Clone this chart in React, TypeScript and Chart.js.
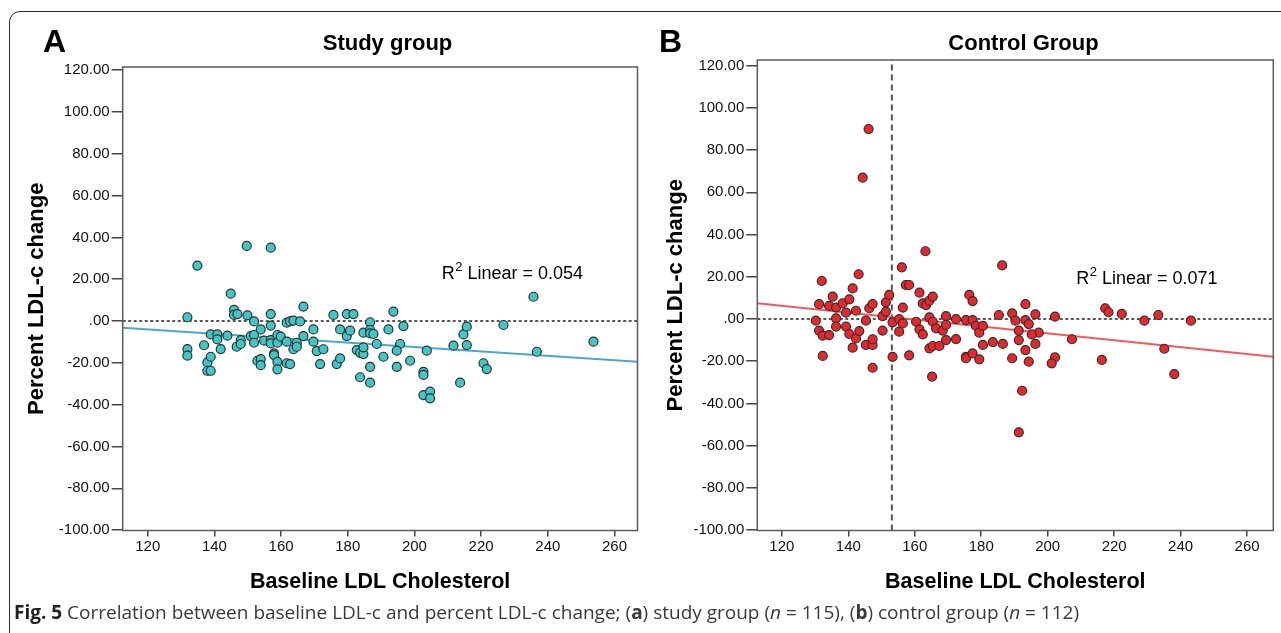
import React, { useEffect, useRef } from "react";
import { Chart, registerables } from "chart.js";
Chart.register(...registerables);

// ---- axes ----
const xTicks = [120, 140, 160, 180, 200, 220, 240, 260];
const yTicks = [-100, -80, -60, -40, -20, 0, 20, 40, 60, 80, 100, 120];
const studyXRange = [112.5, 266.9];
const studyYRange = [-100.2, 121.5];
const controlXRange = [112.6, 267.9];
const controlYRange = [-100.2, 122.7];

// ---- study group (A) ----
const studyX = [
  131.9, 134.9, 131.9, 131.9, 136.9, 137.9, 138.9, 137.9, 138.9, 138.9,
  140.9, 140.9, 141.9, 143.9, 144.9, 145.9, 145.9, 146.9, 146.7, 147.9,
  147.9, 149.7, 149.9, 151.9, 150.9, 151.9, 151.9, 152.9, 153.9, 153.9,
  153.9, 154.9, 156.9, 156.9, 156.9, 156.9, 156.9, 157.9, 157.9, 158.9,
  158.9, 158.9, 158.9, 159.9, 161.7, 161.7, 161.7, 162.7, 162.7, 163.7,
  163.7, 164.7, 164.7, 165.7, 166.7, 166.7, 169.7, 169.7, 170.7, 171.7,
  172.7, 175.7, 176.7, 177.7, 177.7, 179.7, 179.7, 180.7, 181.7, 182.7,
  183.7, 184.7, 184.7, 183.7, 184.7, 186.7, 186.7, 186.7, 187.7, 186.7,
  186.7, 188.7, 190.7, 192.2, 193.7, 196.7, 195.7, 194.7, 194.7, 198.7,
  203.7, 202.7, 202.7, 202.7, 204.7, 204.7, 211.7, 213.7, 214.7, 215.7,
  215.7, 220.7, 221.7, 226.7, 235.7, 236.7, 253.7,
];
const studyY = [
  1.8, 26.5, -13.4, -16.6, -11.6, -19.8, -17.1, -23.8, -23.8, -6.4,
  -6.4, -8.8, -13.4, -7.0, 13.1, 5.3, 2.9, 3.3, -12.3, -9.1,
  -11.0, 35.9, 2.7, -0.2, -7.2, -6.7, -10.4, -19.0, -18.2, -21.1,
  -4.0, -9.4, 35.1, 3.3, -2.2, -9.1, -10.7, -15.5, -16.3, -19.5,
  -23.1, -6.7, -10.4, -7.5, -0.8, -9.9, -20.2, -20.6, -0.2, 0.2,
  -13.5, -10.4, -12.3, -0.2, 6.9, -7.2, -4.0, -9.9, -14.4, -20.6,
  -13.5, 2.9, -20.6, -4.0, -17.9, 3.3, -7.2, -4.6, 3.3, -13.9,
  -15.2, -15.8, -12.6, -26.9, -5.6, -0.6, -4.3, -5.9, -6.2, -21.9,
  -29.5, -11.0, -17.1, -4.0, 4.5, -2.4, -11.0, -14.2, -21.9, -19.0,
  -14.2, -24.3, -25.8, -35.4, -33.8, -37.0, -11.8, -29.5, -6.4, -2.7,
  -11.5, -20.2, -23.0, -1.9, 11.6, -14.7, -9.9,
];
const studyFitX = [112.5, 266.9];
const studyFitY = [-3.2, -19.5];
const studyR2 = "0.054";
const studyR2Pos = [208.2, 19.9];

// ---- control group (B) ----
const controlX = [
  146.1, 144.3, 163.2, 156.1, 186.3, 143.1, 132.0,
  131.2, 134.2, 135.3, 136.3, 138.3, 140.3, 141.3, 139.3, 136.3, 130.2,
  131.2, 132.3, 134.2, 136.3, 139.3, 140.3, 142.3, 142.3, 143.3, 141.3,
  145.3, 146.3, 147.3, 145.3, 147.3, 147.3, 147.3, 132.3, 150.3, 150.3,
  151.3, 151.3, 152.3, 153.3, 155.3, 156.4, 155.3, 156.4, 153.3, 157.3,
  158.3, 158.3, 160.4, 161.4, 161.4, 162.4, 162.4, 163.4, 164.4, 165.4,
  164.4, 165.4, 166.4, 164.4, 165.4, 165.2, 167.4, 168.4, 169.4, 169.4,
  169.4, 172.4, 172.4, 175.4, 176.4, 177.4, 177.4, 178.4, 179.4, 180.5,
  180.5, 175.4, 175.4, 177.4, 179.4, 183.5, 185.3, 186.5, 189.3, 189.3,
  190.3, 191.3, 191.3, 193.3, 193.3, 194.3, 193.3, 194.3, 192.3, 191.3,
  196.3, 196.3, 197.3,
  195.2, 202.2, 202.2, 201.2, 207.3, 216.3, 217.3, 218.3, 222.3, 229.1,
  233.3, 235.1, 238.1, 243.1,
];
const controlY = [
  90.0, 67.0, 32.1, 24.5, 25.4, 21.2, 18.0,
  7.0, 6.2, 10.6, 5.4, 7.4, 9.3, 14.5, 3.0, 0.3, -0.8,
  -5.5, -7.9, -7.6, -3.6, -3.6, -7.1, 3.9, -9.2, -5.7, -13.6,
  -0.8, 5.1, 7.1, -12.3, -12.3, -9.6, -23.1, -17.5, -5.5, 1.4,
  3.5, 7.9, 11.4, -1.6, -0.1, 5.4, -6.0, -2.1, -17.9, 16.1,
  16.1, -17.2, -1.3, 12.5, -4.9, -7.3, 7.4, 6.6, 8.7, 10.6,
  0.8, -1.3, -4.4, -13.9, -12.8, -27.3, -12.8, -5.5, 1.4, -2.8,
  -10.0, -0.1, -9.5, -0.5, 11.4, 8.5, -0.5, -3.3, -6.5, -3.3,
  -12.3, -17.9, -18.6, -16.3, -19.1, -11.0, 1.9, -11.8, -18.6, 2.7,
  -0.8, -5.5, -10.0, 7.0, -0.5, -2.4, -14.7, -20.2, -34.0, -53.7,
  2.2, -11.8, -6.5,
  -7.3, 1.1, -18.2, -21.0, -9.6, -19.4, 5.1, 3.2, 2.4, -0.8,
  1.9, -14.1, -26.1, -0.8,
];
const controlFitX = [112.6, 267.9];
const controlFitY = [7.5, -17.9];
const controlMeanX = 153.1;
const controlR2 = "0.071";
const controlR2Pos = [208.6, 16.8];

const SANS = '"Liberation Sans", Arial, sans-serif';
const NARROW = '"Liberation Sans Narrow", "Arial Narrow", "Liberation Sans", sans-serif';

const decorPlugin = {
  id: "decor",
  afterDraw(chart: any, _args: any, opts: any) {
    const { ctx, chartArea: a } = chart;
    ctx.save();
    ctx.strokeStyle = "#5a5a5a";
    ctx.lineWidth = 1.5;
    ctx.strokeRect(a.left, a.top, a.right - a.left, a.bottom - a.top);
    ctx.fillStyle = "#000";
    ctx.textBaseline = "alphabetic";
    ctx.textAlign = "left";
    ctx.font = `bold 32px ${SANS}`;
    ctx.fillText(opts.letter, opts.letterX, opts.letterY);
    ctx.textAlign = "center";
    ctx.font = `bold 22px ${SANS}`;
    ctx.fillText(opts.title, opts.titleX, opts.titleY);
    // R2 annotation
    const xs = chart.scales.x;
    const ys = chart.scales.y;
    let px = xs.getPixelForValue(opts.r2Pos[0]);
    const py = ys.getPixelForValue(opts.r2Pos[1]);
    ctx.textAlign = "left";
    ctx.font = `18px ${SANS}`;
    ctx.fillText("R", px, py);
    px += ctx.measureText("R").width + 0.5;
    ctx.font = `13px ${SANS}`;
    ctx.fillText("2", px, py - 8);
    px += ctx.measureText("2").width;
    ctx.font = `18px ${SANS}`;
    ctx.fillText(" Linear = " + opts.r2, px, py);
    ctx.restore();
  },
};

function makeConfig(p: any) {
  const points = p.xs.map((x: number, i: number) => ({ x, y: p.ys[i] }));
  const datasets: any[] = [
    {
      type: "scatter",
      data: points,
      backgroundColor: p.fill,
      borderColor: "#2f2f2f",
      borderWidth: 1.2,
      pointRadius: 4.5,
      order: 0,
    },
    {
      type: "scatter",
      data: p.fitX.map((x: number, i: number) => ({ x, y: p.fitY[i] })),
      showLine: true,
      borderColor: p.lineColor,
      borderWidth: 2,
      pointRadius: 0,
      order: 1,
    },
    {
      type: "scatter",
      data: [
        { x: p.xRange[0], y: 0 },
        { x: p.xRange[1], y: 0 },
      ],
      showLine: true,
      borderColor: "#222",
      borderWidth: 1.6,
      borderDash: [3, 2.5],
      pointRadius: 0,
      order: 2,
    },
  ];
  if (p.meanX !== undefined) {
    datasets.push({
      type: "scatter",
      data: [
        { x: p.meanX, y: p.yRange[0] },
        { x: p.meanX, y: p.yRange[1] },
      ],
      showLine: true,
      borderColor: "#555",
      borderWidth: 2,
      borderDash: [6, 4],
      pointRadius: 0,
      order: 3,
    });
  }
  return {
    type: "scatter",
    data: { datasets },
    plugins: [decorPlugin],
    options: {
      animation: false,
      responsive: false,
      devicePixelRatio: 1,
      events: [],
      layout: { padding: { left: 0, top: p.top, right: p.right, bottom: 0 } },
      plugins: {
        legend: { display: false },
        tooltip: { enabled: false },
        title: { display: false },
        decor: {
          letter: p.letter,
          letterX: p.letterX,
          letterY: 52,
          title: p.title,
          titleX: p.titleX,
          titleY: 50,
          r2: p.r2,
          r2Pos: p.r2Pos,
        },
      },
      scales: {
        x: {
          type: "linear",
          min: p.xRange[0],
          max: p.xRange[1],
          afterBuildTicks: (s: any) => {
            s.ticks = xTicks.map((v) => ({ value: v }));
          },
          afterFit: (s: any) => {
            s.height = p.xHeight;
          },
          ticks: {
            autoSkip: false,
            maxRotation: 0,
            padding: 1,
            color: "#111",
            font: { family: NARROW, size: 15 },
            callback: (v: any) => String(v),
          },
          grid: {
            display: true,
            drawOnChartArea: false,
            drawTicks: true,
            tickLength: 6,
            color: "#444",
            lineWidth: 1.5,
          },
          border: { display: false },
          title: {
            display: true,
            text: "Baseline LDL Cholesterol",
            color: "#000",
            font: { family: SANS, size: 21.5, weight: "bold" },
            padding: { top: 0, bottom: 5.1 },
          },
        },
        y: {
          type: "linear",
          min: p.yRange[0],
          max: p.yRange[1],
          afterBuildTicks: (s: any) => {
            s.ticks = yTicks.map((v) => ({ value: v }));
          },
          afterFit: (s: any) => {
            s.width = p.yWidth;
          },
          ticks: {
            autoSkip: false,
            padding: 2,
            color: "#111",
            font: { family: NARROW, size: 15 },
            callback: (v: any) => (v === 0 ? ".00" : Number(v).toFixed(2)),
          },
          grid: {
            display: true,
            drawOnChartArea: false,
            drawTicks: true,
            tickLength: 11,
            color: "#444",
            lineWidth: 1.5,
          },
          border: { display: false },
          title: {
            display: true,
            text: "Percent LDL-c change",
            color: "#000",
            font: { family: SANS, size: 22, weight: "bold" },
            padding: { top: p.yTitlePad, bottom: 0 },
          },
        },
      },
    },
  };
}

export default function App() {
  const leftRef = useRef<HTMLCanvasElement>(null);
  const rightRef = useRef<HTMLCanvasElement>(null);

  useEffect(() => {
    const c1 = new Chart(
      leftRef.current as HTMLCanvasElement,
      makeConfig({
        xs: studyX,
        ys: studyY,
        fitX: studyFitX,
        fitY: studyFitY,
        xRange: studyXRange,
        yRange: studyYRange,
        fill: "#3fc6c6",
        lineColor: "#4aa8cc",
        letter: "A",
        letterX: 43,
        title: "Study group",
        titleX: 387.5,
        r2: studyR2,
        r2Pos: studyR2Pos,
        top: 67,
        right: 645 - 637.5,
        xHeight: 600 - 530.5,
        yWidth: 122.7,
        yTitlePad: 37 - 13.2,
      }) as any
    );
    const c2 = new Chart(
      rightRef.current as HTMLCanvasElement,
      makeConfig({
        xs: controlX,
        ys: controlY,
        fitX: controlFitX,
        fitY: controlFitY,
        xRange: controlXRange,
        yRange: controlYRange,
        meanX: controlMeanX,
        fill: "#e8262b",
        lineColor: "#f25a5a",
        letter: "B",
        letterX: 659 - 645,
        title: "Control Group",
        titleX: 1023.5 - 645,
        r2: controlR2,
        r2Pos: controlR2Pos,
        top: 60,
        right: 636 - (1273.3 - 645),
        xHeight: 600 - 530.5,
        yWidth: 757.3 - 645,
        yTitlePad: 676 - 645 - 13.2,
      }) as any
    );
    return () => {
      c1.destroy();
      c2.destroy();
    };
  }, []);

  return (
    <div
      style={{
        position: "fixed",
        left: 0,
        top: 0,
        width: 1281,
        height: 633,
        overflow: "hidden",
        background: "#fff",
      }}
    >
      <div
        style={{
          position: "absolute",
          left: 8.5,
          top: 11,
          width: 1400,
          height: 800,
          border: "1.5px solid #2a2a2a",
          borderRadius: 11,
          boxSizing: "border-box",
        }}
      />
      <canvas
        ref={leftRef}
        width={645}
        height={600}
        style={{ position: "absolute", left: 0, top: 0, width: 645, height: 600 }}
      />
      <canvas
        ref={rightRef}
        width={636}
        height={600}
        style={{ position: "absolute", left: 645, top: 0, width: 636, height: 600 }}
      />
      <div
        style={{
          position: "absolute",
          left: 14,
          top: 601.5,
          fontFamily: '"Open Sans", sans-serif',
          fontSize: 19,
          lineHeight: "20px",
          color: "#3a3a3a",
          whiteSpace: "nowrap",
        }}
      >
        <b style={{ color: "#222" }}>Fig. 5</b> Correlation between baseline LDL-c and percent LDL-c change; (<b>a</b>) study group (<i>n</i> = 115), (<b>b</b>) control group (<i>n</i> = 112)
      </div>
    </div>
  );
}
